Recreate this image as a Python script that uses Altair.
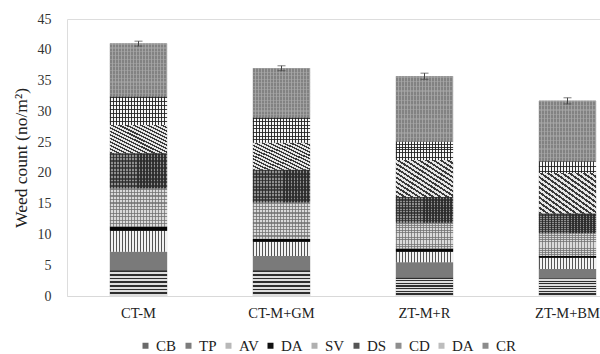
import altair as alt
import pandas as pd

treatments = ["CT-M", "CT-M+GM", "ZT-M+R", "ZT-M+BM"]
series = ["CB", "TP", "AV", "DA", "SV", "DS", "CD", "DA ", "CR"]
legend_colors = ["#6a6a6a", "#7c7c7c", "#b8b8b8", "#111111", "#b0b0b0",
                 "#555555", "#8e8e8e", "#bdbdbd", "#8c8c8c"]

ct_m = [4.2, 3.0, 3.4, 0.7, 6.2, 5.7, 4.6, 4.6, 8.6]
ct_m_gm = [4.2, 2.3, 2.3, 0.5, 5.9, 5.3, 4.4, 4.1, 8.0]
zt_m_r = [3.0, 2.5, 1.7, 0.5, 4.2, 4.2, 6.0, 3.0, 10.6]
zt_m_bm = [2.9, 1.5, 1.8, 0.3, 3.7, 3.2, 6.6, 1.9, 9.8]
total_err = [0.4, 0.4, 0.5, 0.5]

values = [ct_m, ct_m_gm, zt_m_r, zt_m_bm]
rows = []
for t, vals in zip(treatments, values):
    for i, (s, v) in enumerate(zip(series, vals)):
        rows.append({"treatment": t, "weed": s, "order": i, "count": v})
df = pd.DataFrame(rows)

tot = pd.DataFrame({
    "treatment": treatments,
    "total": [sum(v) for v in values],
    "err": total_err,
})
tot["lo"] = tot["total"] - tot["err"]
tot["hi"] = tot["total"] + tot["err"]


def stripes(n, c_line, c_gap, frac, vec):
    stops = []
    for k in range(n):
        a = k / n
        b = (k + frac) / n
        c = (k + 1) / n
        stops += [(a, c_line), (b, c_line), (b, c_gap), (c, c_gap)]
    out = []
    last = 0.0
    for off, col in stops:
        off = max(last, min(1.0, round(off, 5)))
        last = off
        out.append({"offset": off, "color": col})
    x1, y1, x2, y2 = vec
    return {"gradient": "linear", "x1": x1, "y1": y1, "x2": x2, "y2": y2,
            "stops": out}


HORIZ = (0, 0, 0, 1)
VERT = (0, 0, 1, 0)
DIAG = (0, 1, 1, 0)
CLEAR = "rgba(255,255,255,0)"

patterns = {
    "CB": [stripes(7, "#2e2e2e", "#dedede", 0.45, HORIZ)],
    "TP": ["#7a7a7a"],
    "AV": [stripes(19, "#555555", "#f2f2f2", 0.35, VERT)],
    "DA": ["#050505"],
    "SV": [stripes(19, "#8a8a8a", "#dadada", 0.4, VERT),
           stripes(11, "rgba(110,110,110,0.75)", CLEAR, 0.4, HORIZ)],
    "DS": [stripes(19, "#333333", "#8f8f8f", 0.5, VERT),
           stripes(10, "rgba(40,40,40,0.7)", CLEAR, 0.5, HORIZ)],
    "CD": [stripes(16, "#3a3a3a", "#e6e6e6", 0.45, DIAG)],
    "DA ": [stripes(19, "#333333", "#f6f6f6", 0.3, VERT),
            stripes(7, "rgba(30,30,30,0.85)", CLEAR, 0.3, HORIZ)],
    "CR": [stripes(19, "#828282", "#a2a2a2", 0.65, VERT),
           stripes(14, "rgba(170,170,170,0.5)", CLEAR, 0.3, HORIZ)],
}

serif = "Liberation Serif"

xenc = alt.X("treatment:N", sort=treatments, title=None,
             scale=alt.Scale(range=[0, 572], paddingInner=0.6, paddingOuter=0.3),
             axis=alt.Axis(labelAngle=0, ticks=False, domainColor="#d9d9d9",
                           labelFont=serif, labelFontSize=14.5, labelColor="#222222",
                           labelPadding=10))

yaxis = alt.Axis(values=list(range(0, 46, 5)), grid=False, domain=False,
                 ticks=False, labelFont=serif, labelFontSize=14,
                 labelColor="#333333", labelPadding=16,
                 titleFont=serif, titleFontSize=17.5, titleFontWeight="normal",
                 titleColor="#222222", titlePadding=7)
yscale = alt.Scale(domain=[0, 45], nice=False)
ytitle = "Weed count (no/m²)"

base = alt.Chart(df).transform_stack(
    stack="count", groupby=["treatment"], as_=["y0", "y1"],
    sort=[alt.SortField("order", order="ascending")],
)

enc = dict(
    x=xenc,
    y=alt.Y("y0:Q", title=ytitle, scale=yscale, axis=yaxis),
    y2=alt.Y2("y1:Q"),
)

legend_layer = base.mark_bar().encode(
    color=alt.Color("weed:N", scale=alt.Scale(domain=series, range=legend_colors),
                    legend=alt.Legend(title=None, orient="none", direction="horizontal",
                                      columns=9, legendX=71, legendY=319,
                                      symbolType="square", symbolSize=36,
                                      symbolStrokeWidth=0,
                                      labelFont=serif, labelFontSize=15,
                                      labelColor="#222222", columnPadding=4,
                                      labelOffset=3)),
    **enc,
)

layers = [legend_layer]
for s in series:
    for fill in patterns[s]:
        layers.append(
            base.transform_filter(alt.FieldEqualPredicate(field="weed", equal=s))
            .mark_bar(fill=fill, stroke=None)
            .encode(**enc)
        )

errs = alt.Chart(tot).mark_errorbar(ticks=alt.TickConfig(size=8), color="#444444",
                                    thickness=1).encode(
    x=alt.X("treatment:N", sort=treatments),
    y=alt.Y("lo:Q", title=ytitle, scale=yscale, axis=yaxis),
    y2="hi:Q",
)
layers.append(errs)

chart = alt.layer(*layers).properties(
    width=533, height=277,
    autosize=alt.AutoSizeParams(type="none"),
    padding={"left": 67, "top": 19, "right": 0, "bottom": 58},
).configure_view(stroke=None).configure(background="white")

chart.save("out.html", embed_options={"renderer": "svg", "actions": False})
